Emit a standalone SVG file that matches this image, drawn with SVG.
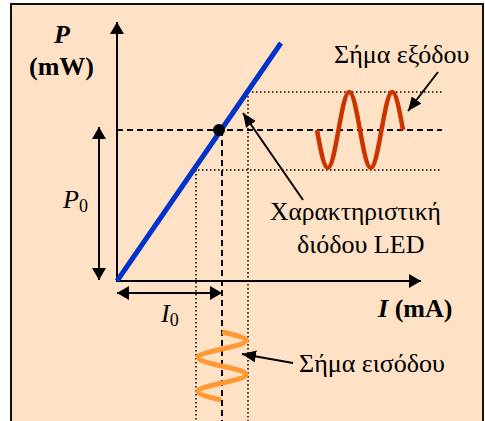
<svg xmlns="http://www.w3.org/2000/svg" width="485" height="421" viewBox="0 0 485 421">
<defs>
<marker id="ah" viewBox="0 0 12 14" refX="12" refY="7" markerWidth="12" markerHeight="14" markerUnits="userSpaceOnUse" orient="auto-start-reverse">
<path d="M0,0 L12,7 L0,14 Z" fill="#000"/>
</marker>
<marker id="ahs" viewBox="0 0 14 12" refX="14" refY="6" markerWidth="14" markerHeight="12" markerUnits="userSpaceOnUse" orient="auto">
<path d="M0,0 L14,6 L0,12 Z" fill="#000"/>
</marker>
</defs>
<style>
.ax{stroke:#000;stroke-width:2;fill:none}
.dash{stroke:#000;stroke-width:2;stroke-dasharray:6,4;fill:none}
.dot{stroke:#000;stroke-width:1.5;stroke-dasharray:1.5,2.5;fill:none}
</style>
<rect x="0" y="0" width="485" height="421" fill="#fff"/>
<rect x="11" y="4" width="472" height="420" fill="#FFE2C6" stroke="#111" stroke-width="2"/>
<g id="guides">
<line class="dot" x1="248" y1="92" x2="442" y2="92"/>
<line class="dot" x1="194" y1="170" x2="442" y2="170"/>
<line class="dot" x1="248" y1="92" x2="248" y2="421"/>
<line class="dot" x1="196" y1="170" x2="196" y2="421"/>
<line class="dash" x1="117" y1="130" x2="442" y2="130"/>
<line class="dash" x1="222" y1="130" x2="222" y2="421"/>
</g>
<g id="axes">
<line class="ax" x1="117" y1="282" x2="117" y2="22" marker-end="url(#ah)"/>
<line class="ax" x1="116" y1="281" x2="421" y2="281" marker-end="url(#ah)"/>
</g>
<g id="characteristic">
<line x1="117" y1="281" x2="281" y2="43" stroke="#0033CC" stroke-width="5"/>
<circle cx="219" cy="130" r="6" fill="#000"/>
</g>
<g id="output-signal">
<path d="M317,130 C320.59,149.95 323.88,168 327.75,168 C331.62,168 334.91,149.95 338.5,130 C342.09,110.05 345.38,92 349.25,92 C353.12,92 356.41,110.05 360,130 C363.59,149.95 366.88,168 370.75,168 C374.62,168 377.91,149.95 381.5,130 C385.09,110.05 388.38,92 392.25,92 C396.12,92 399.41,110.05 403,130" fill="none" stroke="#CC3300" stroke-width="4.5"/>
</g>
<g id="input-signal">
<path d="M222,332 C234.6,334.84 246,337.44 246,340.5 C246,343.56 234.6,346.16 222,349 C209.4,351.84 198,354.44 198,357.5 C198,360.56 209.4,363.16 222,366 C234.6,368.84 246,371.44 246,374.5 C246,377.56 234.6,380.16 222,383 C209.4,385.84 198,388.44 198,391.5 C198,394.56 209.4,397.16 221,400" fill="none" stroke="#FF9933" stroke-width="5"/>
</g>
<g id="connectors">
<line class="ax" x1="99" y1="280" x2="99" y2="127" marker-start="url(#ah)" marker-end="url(#ah)"/>
<line class="ax" x1="117" y1="293" x2="222" y2="293" marker-start="url(#ah)" marker-end="url(#ah)"/>
<line class="ax" x1="438" y1="72" x2="408" y2="111" marker-end="url(#ahs)"/>
<line class="ax" x1="303" y1="200" x2="243" y2="113" marker-end="url(#ahs)"/>
<line class="ax" x1="293" y1="363" x2="242" y2="354" marker-end="url(#ahs)"/>
</g>
<g id="labels" font-family="Liberation Serif, serif" font-size="26" fill="#000">
<text x="54" y="43" font-family="Liberation Serif, serif" font-weight="bold" font-style="italic">P</text>
<text x="29" y="75" font-family="Liberation Serif, serif" font-weight="bold">(mW)</text>
<text x="63" y="208" font-family="Liberation Serif, serif" font-style="italic">P<tspan font-style="normal" font-size="18" dy="4">0</tspan></text>
<text x="161" y="322" font-family="Liberation Serif, serif" font-style="italic">I<tspan font-style="normal" font-size="18" dy="4">0</tspan></text>
<text x="378" y="317" font-family="Liberation Serif, serif" font-weight="bold"><tspan font-style="italic">I</tspan> (mA)</text>
<text x="334" y="63" font-family="Liberation Serif, serif">Σήμα εξόδου</text>
<text x="270" y="220" font-family="Liberation Serif, serif" font-size="25.5">Χαρακτηριστική</text>
<text x="297" y="253" font-family="Liberation Serif, serif">διόδου LED</text>
<text x="299" y="372" font-family="Liberation Serif, serif">Σήμα εισόδου</text>
</g>
</svg>
